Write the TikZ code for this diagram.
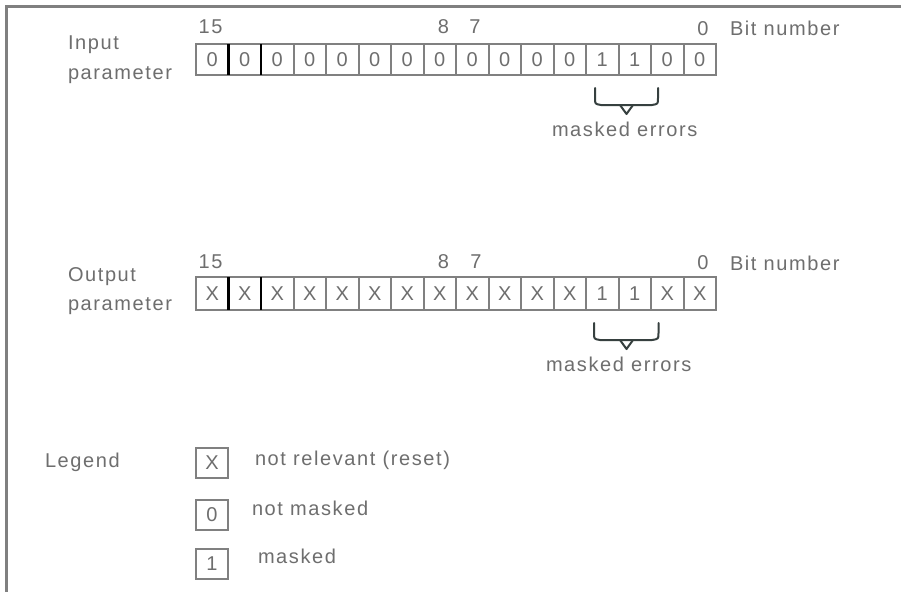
\documentclass[tikz,border=0pt]{standalone}
\usepackage{fontspec}
\setmainfont{Liberation Sans}[LetterSpace=8]
\definecolor{txt}{HTML}{6E6E6E}
\definecolor{frm}{HTML}{808080}
\definecolor{brc}{HTML}{36403F}
\begin{document}
\begin{tikzpicture}[x=1pt,y=-1pt,
  every node/.style={font=\fontsize{20}{23}\selectfont, text=txt, inner sep=0pt, outer sep=0pt},
  lbl/.style={anchor=base west},
  num/.style={anchor=base},
  cell/.style={draw=frm, line width=2pt, minimum width=32.5pt, minimum height=31pt, anchor=center},
  ocell/.style={cell, minimum height=33pt},
  lgbox/.style={cell, minimum width=32pt, minimum height=30pt},
  divider/.style={draw=black, line width=2.5pt},
  bracestyle/.style={draw=brc, line width=2pt, line join=round, line cap=round}]
\useasboundingbox (0,0) rectangle (901,592);
\fill[white] (0,0) rectangle (901,592);
% frame
\draw[frm, line width=3pt] (901,6.5) -- (6.5,6.5) -- (6.5,592);

% ---------- input parameter ----------
\node[lbl] (inA) at (68,49) {Input};
\node[lbl] (inB) at (68,79.5) {parameter};
\node[num] (in15) at (210.5,33) {15};
\node[num] (in8) at (443.5,33) {8};
\node[num] (in7) at (475,33) {7};
\node[num] (in00) at (703,35.5) {0};
\node[lbl] (inbit) at (730,35.5) {Bit number};
\foreach \v [count=\i from 0] in {0,0,0,0,0,0,0,0,0,0,0,0,1,1,0,0}
  \node[cell] (in\i) at ({212.25+32.5*\i},59.5) {\v};
\draw[divider] (in0.north east) -- (in0.south east);
\draw[divider] (in1.north east) -- (in1.south east);
\draw[bracestyle] (595,88) -- (595,98) .. controls (595,104) .. (601,105) -- (652,105)
  .. controls (658,104) .. (658,98) -- (658,88);
\draw[bracestyle] (620,105) -- (626.5,114) -- (633,105);
\node[lbl] (inmask) at (552,136) {masked errors};

% ---------- output parameter ----------
\node[lbl] (outA) at (68,281.5) {Output};
\node[lbl] (outB) at (68,310.5) {parameter};
\node[num] (out15) at (210.5,268) {15};
\node[num] (out8) at (443.5,268) {8};
\node[num] (out7) at (476,268) {7};
\node[num] (out00) at (703,269) {0};
\node[lbl] (outbit) at (730,270.5) {Bit number};
\foreach \v [count=\i from 0] in {X,X,X,X,X,X,X,X,X,X,X,X,1,1,X,X}
  \node[ocell] (out\i) at ({212.25+32.5*\i},293.5) {\v};
\draw[divider] (out0.north east) -- (out0.south east);
\draw[divider] (out1.north east) -- (out1.south east);
\draw[bracestyle] (594,323) -- (594,333) .. controls (594,339) .. (600,340) -- (652,340)
  .. controls (658.5,339) .. (658.5,333) -- (658.5,323);
\draw[bracestyle] (620,340) -- (626.5,349) -- (633,340);
\node[lbl] (outmask) at (546,371.5) {masked errors};

% ---------- legend ----------
\node[lbl] (leg) at (45,467) {Legend};
\node[lgbox] (lx) at (212,463) {X};
\node[lgbox] (l0) at (212,515) {0};
\node[lgbox] (l1) at (212,564) {1};
\node[lbl] (tx) at (255,465.5) {not relevant (reset)};
\node[lbl] (t0) at (252,515.5) {not masked};
\node[lbl] (t1) at (258,563.5) {masked};
\end{tikzpicture}
\end{document}
